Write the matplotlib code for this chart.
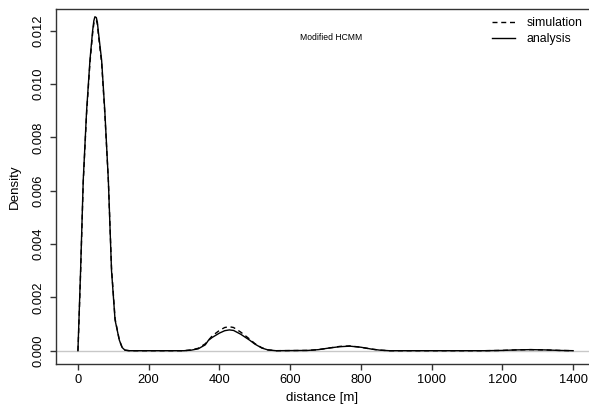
import numpy as np
import matplotlib
matplotlib.use('Agg')
import matplotlib.pyplot as plt

plt.rcParams['font.family'] = ['Liberation Sans', 'DejaVu Sans']

# density curves
dist_analysis = [0, 1, 3, 7.5, 15, 24.5, 34, 41.5, 45, 48, 52, 55, 57.5, 67, 76, 86, 95, 105, 117,
                 125, 133, 145, 300, 320, 340, 360, 369, 380, 400, 415, 428, 440, 460,
                 486, 500, 520, 537, 560, 650, 680, 710, 740, 769, 800, 830, 854, 880,
                 1150, 1200, 1240, 1280, 1320, 1360, 1400]
dens_analysis = [0, 0.0004, 0.0012, 0.0030, 0.0064, 0.0090, 0.0109, 0.0120, 0.01238, 0.01253, 0.0125,
                 0.01232, 0.0120, 0.0109, 0.0090, 0.0064, 0.0030, 0.00115, 0.0004, 0.00012, 0.00002, 0,
                 0, 0.00002, 0.00007, 0.00022, 0.00039, 0.00050, 0.00066, 0.00075, 0.00078,
                 0.00076, 0.00062, 0.00039, 0.00025, 0.00010, 0.00003, 0, 0.00001, 0.00004,
                 0.00010, 0.00015, 0.00017, 0.00013, 0.00006, 0.00002, 0, 0, 0.00001, 0.00003,
                 0.00004, 0.00003, 0.00001, 0]

dist_sim = [0, 1, 3, 7.5, 15, 24.5, 34, 41.5, 45, 48, 52, 55, 57.5, 67, 76, 86, 95, 105, 117,
            125, 133, 145, 300, 320, 340, 360, 380, 400, 415, 428, 440, 460, 486, 500,
            520, 537, 560, 650, 680, 710, 740, 769, 800, 830, 854, 880, 1150, 1200,
            1240, 1280, 1320, 1360, 1400]
dens_sim = [0, 0.0003, 0.0011, 0.0029, 0.0063, 0.0089, 0.0108, 0.0119, 0.01228, 0.0124, 0.0124,
            0.01225, 0.0119, 0.0108, 0.0089, 0.0064, 0.0031, 0.0012, 0.0004, 0.00012, 0.00002, 0,
            0, 0.00003, 0.00009, 0.00026, 0.00056, 0.00076, 0.00087, 0.00090, 0.00087,
            0.00070, 0.00043, 0.00027, 0.00011, 0.00003, 0, 0.00001, 0.00004, 0.00010,
            0.00016, 0.00018, 0.00013, 0.00006, 0.00002, 0, 0, 0.00001, 0.00003, 0.00004,
            0.00003, 0.00001, 0]

xticks = [0, 200, 400, 600, 800, 1000, 1200, 1400]
yticks = [0.000, 0.002, 0.004, 0.006, 0.008, 0.010, 0.012]

W, H = 589, 411
fig = plt.figure(figsize=(W/100, H/100), dpi=100)
ax = fig.add_axes([56/W, (H-363.7)/H, 1 - 56/W, (363.7-9.3)/H])

fs = 9.3
ax.axhline(0, color='#c8c8c8', lw=1.0, zorder=1)
ax.plot(dist_sim, dens_sim, color='black', lw=1.0, dashes=(3.6, 2.7), label='simulation', zorder=3)
ax.plot(dist_analysis, dens_analysis, color='black', lw=1.0, label='analysis', zorder=2)

ax.set_xlim(-62, 1445)
ax.set_ylim(-0.000488, 0.01281)
ax.set_xticks(xticks)
ax.set_xticklabels([str(t) for t in xticks])
ax.set_yticks(yticks)
ax.set_yticklabels(['%.3f' % t for t in yticks], rotation=90, va='center')

for s in ['left', 'bottom', 'top']:
    ax.spines[s].set_color('#333333')
    ax.spines[s].set_linewidth(1.0)
ax.spines['right'].set_visible(False)
ax.tick_params(axis='both', length=4.3, width=1.0, color='#333333', labelsize=fs)
ax.tick_params(axis='x', pad=3)
ax.tick_params(axis='y', pad=4)

ax.set_xlabel('distance [m]', fontsize=fs + 0.3, labelpad=4.5)
ax.set_ylabel('Density', fontsize=fs + 0.3, labelpad=8)

ax.text(715, 0.01175, 'Modified HCMM', fontsize=6.2, ha='center', va='center')

ax.legend(loc='upper left', bbox_to_anchor=(492/W, 1 - 17.5/H), bbox_transform=fig.transFigure,
          frameon=False, fontsize=8.8, handlelength=1.88, handletextpad=0.95,
          labelspacing=0.29, borderpad=0, borderaxespad=0)

plt.savefig('out.png', dpi=100)
